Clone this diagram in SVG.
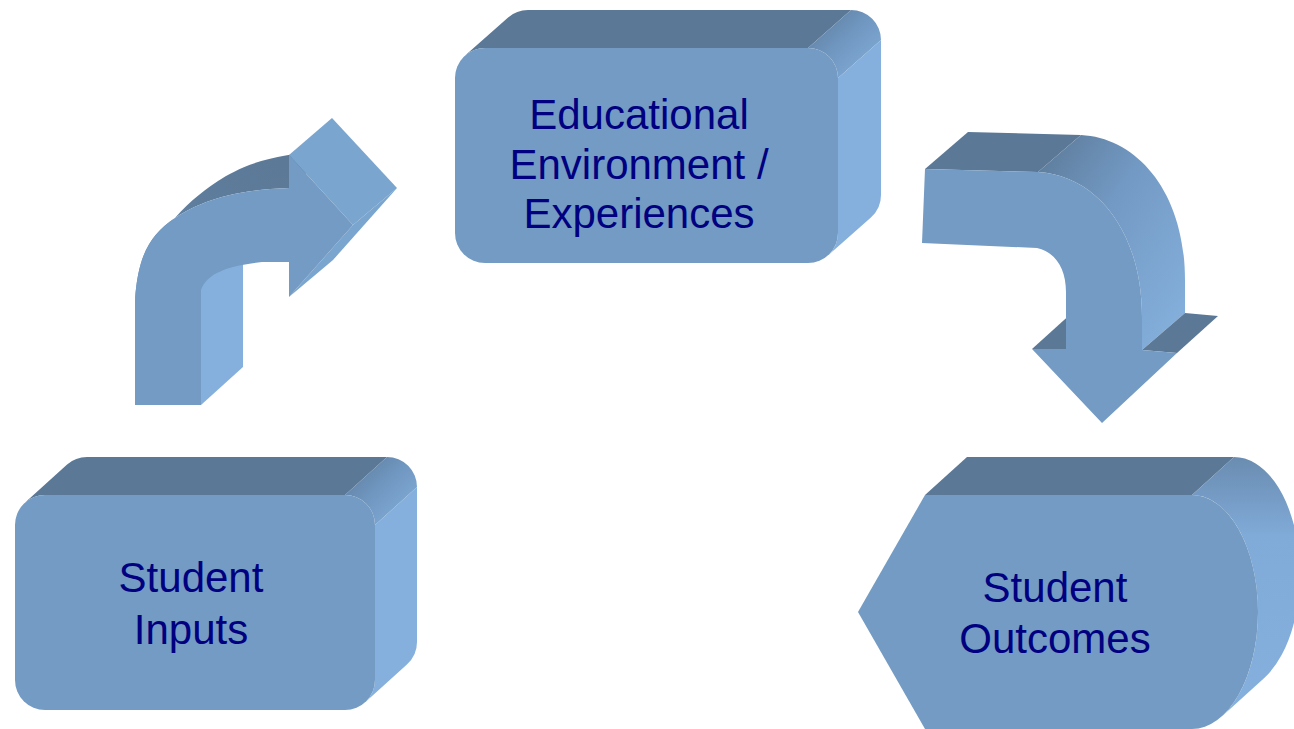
<svg xmlns="http://www.w3.org/2000/svg" width="1294" height="729" viewBox="0 0 1294 729">
<defs>
<style>
.front{fill:#739BC3}
.top{fill:#5B7896}
.side{fill:#85B0DD}
.head{fill:#7AA5CF}
.lbl{font-family:"Liberation Sans",Arial,sans-serif;font-size:42px;fill:#000080;text-anchor:middle}
</style>
<linearGradient id="gCorner" x1="0" y1="0" x2="1" y2="1">
<stop offset="0" stop-color="#5B7896"/>
<stop offset="0.45" stop-color="#6F96BF"/>
<stop offset="1" stop-color="#85B0DD"/>
</linearGradient>
<linearGradient id="gOut" x1="0" y1="0" x2="0" y2="1">
<stop offset="0" stop-color="#6A8CB1"/>
<stop offset="0.3" stop-color="#80AAD7"/>
<stop offset="1" stop-color="#85B0DD"/>
</linearGradient>
<linearGradient id="gArrowL" x1="0" y1="1" x2="1" y2="0">
<stop offset="0" stop-color="#7098C0"/>
<stop offset="0.5" stop-color="#5E7C9B"/>
<stop offset="1" stop-color="#5B7896"/>
</linearGradient>
<linearGradient id="gArrowR" x1="0" y1="0" x2="1" y2="1">
<stop offset="0" stop-color="#5B7896"/>
<stop offset="0.4" stop-color="#7299C3"/>
<stop offset="1" stop-color="#87B2DF"/>
</linearGradient>
</defs>

<g id="connectors">
<g id="arrow-inputs-to-environment">
<path fill="url(#gArrowL)" d="M135,300 C138,255 150,235 175,218 C195,205 225,190 289,188 L332,151 C268,153 238,168 218,181 C200,193 184,206 170,224 L160,250 Z"/>
<polygon class="side" points="201,405 201,280 243,244 243,367"/>
<polygon class="head" points="289,155 332,118 397,188 353,225"/>
<polygon class="head" points="353,225 397,188 333,260 289,297"/>
<path class="front" d="M135,405 L135,300 C138,255 150,235 175,218 C195,205 225,190 289,188 L289,155 L353,225 L289,297 L289,262 L262,262 C222,266 206,276 201,290 L201,405 Z"/>
</g>
<g id="arrow-environment-to-outcomes">
<polygon class="top" points="925,169 968,132 1081,135 1038,172"/>
<path fill="url(#gArrowR)" d="M1038,172 C1095,175 1142,230 1142,317 L1142,350 L1185,313 L1185,280 C1185,193 1138,138 1081,135 Z"/>
<polygon class="top" points="1032,349 1074,311 1100,311 1066,349"/>
<polygon class="top" points="1142,350 1177,353 1218,316 1185,313"/>
<path class="front" d="M925,169 L1038,172 C1095,175 1142,230 1142,317 L1142,350 L1177,353 L1102,423 L1032,349 L1066,349 L1066,292 C1066,268 1055,252 1037,248 L922,243 Z"/>
</g>
</g>

<g id="node-environment">
<path class="top" d="M465.1,55.5 A30,30 0 0 1 485,48 L808,48 L851,10 L528,10 A30,30 0 0 0 508.1,17.5 Z"/>
<path fill="url(#gCorner)" d="M808,48 A30,30 0 0 1 838,78 L881,40 A30,30 0 0 0 851,10 Z"/>
<path class="side" d="M838,78 L838,233 A30,30 0 0 1 827.9,255.5 L870.9,217.5 A30,30 0 0 0 881,195 L881,40 Z"/>
<rect class="front" x="455" y="48" width="383" height="215" rx="30" ry="30"/>
<text class="lbl" x="639" y="129">Educational</text>
<text class="lbl" x="639" y="179">Environment /</text>
<text class="lbl" x="639" y="228">Experiences</text>
</g>

<g id="node-inputs">
<path class="top" d="M25.1,502.5 A30,30 0 0 1 45,495 L345,495 L387,457 L87,457 A30,30 0 0 0 67.1,464.5 Z"/>
<path fill="url(#gCorner)" d="M345,495 A30,30 0 0 1 375,525 L417,487 A30,30 0 0 0 387,457 Z"/>
<path class="side" d="M375,525 L375,680 A30,30 0 0 1 364.9,702.5 L406.9,664.5 A30,30 0 0 0 417,642 L417,487 Z"/>
<rect class="front" x="15" y="495" width="360" height="215" rx="30" ry="30"/>
<text class="lbl" x="191" y="592">Student</text>
<text class="lbl" x="191" y="644">Inputs</text>
</g>

<g id="node-outcomes">
<polygon class="top" points="925,495 967,457 1234,457 1192,495"/>
<path fill="url(#gOut)" d="M1192,495 A66,117 0 0 1 1222,716.2 L1264,678.2 A66,117 0 0 0 1234,457 Z"/>
<path class="front" d="M858,612 L925,495 L1192,495 A66,117 0 0 1 1192,729 L925,729 Z"/>
<text class="lbl" x="1055" y="602">Student</text>
<text class="lbl" x="1055" y="653">Outcomes</text>
</g>
</svg>
